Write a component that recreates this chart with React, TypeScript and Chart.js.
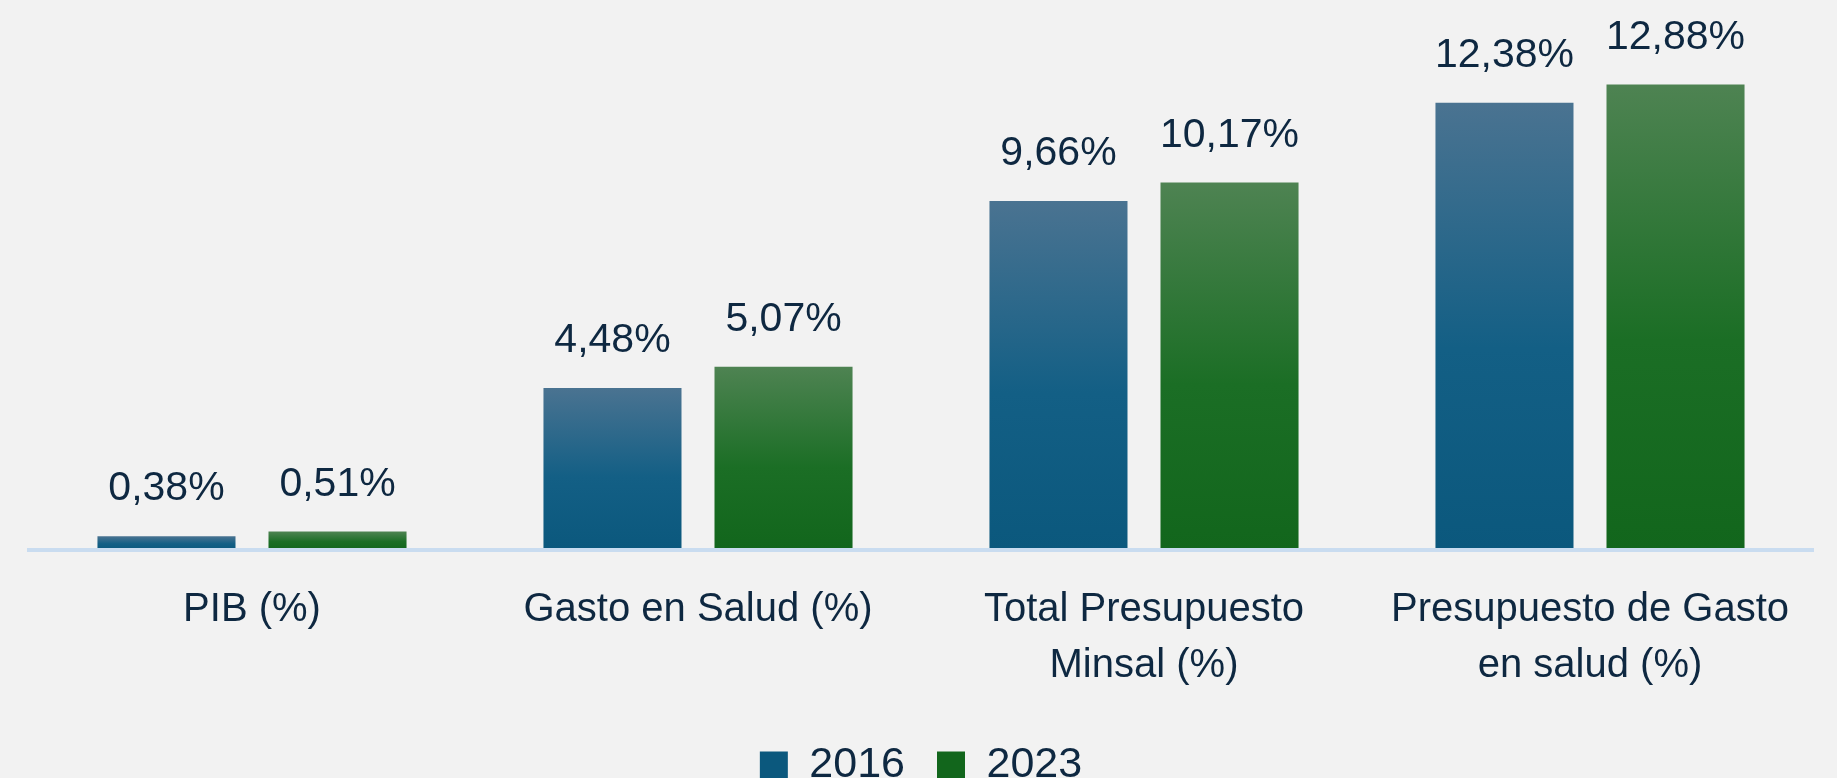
import React, { useEffect, useRef } from 'react';
import { Chart, registerables } from 'chart.js';

Chart.register(...registerables);

const categories: (string | string[])[] = [
  'PIB (%)',
  'Gasto en Salud (%)',
  ['Total Presupuesto', 'Minsal (%)'],
  ['Presupuesto de Gasto', 'en salud (%)'],
];
const seriesNames = ['2016', '2023'];
const values2016 = [0.38, 4.48, 9.66, 12.38];
const values2023 = [0.51, 5.07, 10.17, 12.88];

const FONT = '"Liberation Sans", Arial, sans-serif';
const TEXT = '#0e2841';

const blueStops = ['#4a7391', '#135f85', '#0b587d'];
const greenStops = ['#4e8352', '#1b6e25', '#12661c'];

function gradientFill(stops: string[], legendColor: string) {
  return (ctx: any) => {
    if (ctx.type !== 'data') return legendColor;
    const chart = ctx.chart;
    const y = chart.scales && chart.scales.y;
    if (!y || !chart.chartArea) return stops[1];
    const top = y.getPixelForValue(ctx.raw);
    const bottom = y.getPixelForValue(0);
    if (!isFinite(top) || !isFinite(bottom) || top === bottom) return stops[1];
    const g = chart.ctx.createLinearGradient(0, top, 0, bottom);
    g.addColorStop(0, stops[0]);
    g.addColorStop(0.55, stops[1]);
    g.addColorStop(1, stops[2]);
    return g;
  };
}

const valueLabels = {
  id: 'valueLabels',
  afterDatasetsDraw(chart: any) {
    const c = chart.ctx;
    c.save();
    c.font = `41px ${FONT}`;
    c.fillStyle = TEXT;
    c.textAlign = 'center';
    c.textBaseline = 'alphabetic';
    chart.data.datasets.forEach((ds: any, di: number) => {
      const meta = chart.getDatasetMeta(di);
      meta.data.forEach((bar: any, i: number) => {
        const v = ds.data[i] as number;
        const txt = v.toFixed(2).replace('.', ',') + '%';
        c.fillText(txt, bar.x, bar.y - 36);
      });
    });
    c.restore();
  },
};

export default function App() {
  const ref = useRef<HTMLCanvasElement>(null);
  useEffect(() => {
    if (!ref.current) return;
    const chart = new Chart(ref.current, {
      type: 'bar',
      data: {
        labels: categories,
        datasets: [
          {
            label: seriesNames[0],
            data: values2016,
            backgroundColor: gradientFill(blueStops, '#1f6088'),
            borderWidth: 0,
            categoryPercentage: 0.767,
            barPercentage: 0.807,
          },
          {
            label: seriesNames[1],
            data: values2023,
            backgroundColor: gradientFill(greenStops, '#226e2a'),
            borderWidth: 0,
            categoryPercentage: 0.767,
            barPercentage: 0.807,
          },
        ],
      },
      options: {
        responsive: false,
        maintainAspectRatio: false,
        devicePixelRatio: 1,
        animation: false,
        layout: { padding: { left: 29, right: 24, top: 8, bottom: 0 } },
        scales: {
          x: {
            grid: { display: false },
            border: { display: true, color: '#c9dcf0', width: 4, z: 1 },
            ticks: {
              color: TEXT,
              font: { family: FONT, size: 40, lineHeight: 1.4 },
              padding: 24,
              maxRotation: 0,
              minRotation: 0,
              autoSkip: false,
            },
            afterFit: (s: any) => {
              s.height -= 6;
            },
          },
          y: {
            display: false,
            min: 0,
            max: 15,
          },
        },
        plugins: {
          legend: {
            position: 'bottom',
            labels: {
              color: TEXT,
              font: { family: FONT, size: 43 },
              boxWidth: 28,
              boxHeight: 28,
              padding: 32,
            },
          },
          tooltip: { enabled: false },
        },
      },
      plugins: [valueLabels],
    });
    return () => chart.destroy();
  }, []);

  return (
    <div
      style={{
        position: 'fixed',
        left: 0,
        top: 0,
        width: 1837,
        height: 778,
        overflow: 'hidden',
        background: '#f2f2f2',
      }}
    >
      <canvas ref={ref} width={1837} height={797} style={{ display: 'block' }} />
    </div>
  );
}
